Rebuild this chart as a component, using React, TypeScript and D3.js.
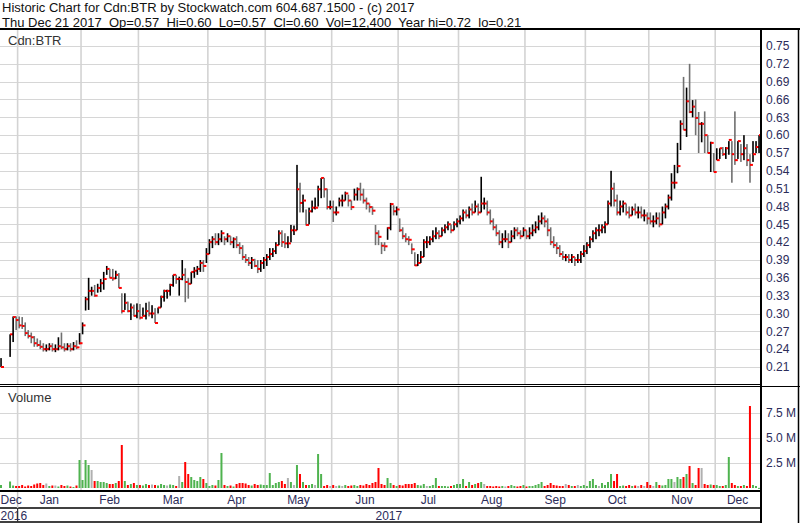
import React from 'react';
import * as d3 from 'd3';

// ---- calendar (TSX-V trading days) ----
const startDate = '2016-12-21';
const endDate = '2017-12-21';
const holidays = ['2016-12-26', '2016-12-27', '2017-01-02', '2017-02-20', '2017-04-14', '2017-05-22', '2017-07-03', '2017-08-07', '2017-09-04', '2017-10-09'];
const monthNames = ['Jan', 'Feb', 'Mar', 'Apr', 'May', 'Jun', 'Jul', 'Aug', 'Sep', 'Oct', 'Nov', 'Dec'];

// ---- daily data (Dec 2016 .. Dec 2017), null = no trade ----
const highs = [
  0.225, null, null, 0.265, 0.295, 0.295,
  0.295, 0.294, 0.285, 0.272, 0.268, 0.262, 0.258, 0.255, 0.25, 0.248, 0.25, 0.25, 0.248, 0.26, 0.268, 0.25, 0.25, 0.25, 0.252, 0.255, 0.267,
  0.285, 0.328, 0.36, 0.345, 0.348, 0.35, 0.358, 0.37, 0.38, 0.375, 0.375, 0.372, 0.368, 0.334, 0.334, 0.32, 0.317, 0.315, 0.317,
  0.316, 0.31, 0.318, 0.32, 0.314, 0.309, 0.31, 0.33, 0.34, 0.34, 0.35, 0.365, 0.365, 0.362, 0.39, 0.376, 0.36, 0.37, 0.378, 0.38, 0.39, 0.39, 0.41,
  0.425, 0.43, 0.435, 0.435, 0.44, 0.43, 0.435, 0.43, 0.428, 0.43, 0.42, 0.415, 0.40, 0.395, 0.395, 0.392, 0.39, 0.39, 0.395,
  0.40, 0.41, 0.41, 0.42, 0.44, 0.44, 0.435, 0.43, 0.449, 0.448, 0.55, 0.52, 0.50, 0.475, 0.478, 0.49, 0.495, 0.515, 0.528, 0.528, 0.51, 0.49,
  0.49, 0.48, 0.495, 0.50, 0.505, 0.50, 0.49, 0.51, 0.512, 0.52, 0.51, 0.495, 0.485, 0.48, 0.449, 0.44, 0.42, 0.42, 0.445, 0.486, 0.482, 0.48,
  0.46, 0.445, 0.435, 0.43, 0.418, 0.403, 0.40, 0.405, 0.425, 0.43, 0.43, 0.44, 0.445, 0.44, 0.445, 0.45, 0.455, 0.45, 0.455, 0.46,
  0.465, 0.475, 0.475, 0.48, 0.485, 0.49, 0.485, 0.53, 0.495, 0.49, 0.475, 0.46, 0.45, 0.44, 0.435, 0.44, 0.435, 0.44, 0.445, 0.445, 0.44, 0.445,
  0.44, 0.445, 0.45, 0.455, 0.465, 0.47, 0.465, 0.46, 0.445, 0.43, 0.42, 0.415, 0.405, 0.40, 0.40, 0.40, 0.395, 0.40, 0.405, 0.415,
  0.42, 0.43, 0.44, 0.445, 0.45, 0.45, 0.455, 0.49, 0.54, 0.52, 0.50, 0.49, 0.49, 0.485, 0.48, 0.48, 0.485, 0.48, 0.48, 0.475, 0.47,
  0.47, 0.465, 0.47, 0.47, 0.48, 0.485, 0.50, 0.536, 0.55, 0.587, 0.625, 0.698, 0.68, 0.72, 0.659, 0.66, 0.639, 0.622, 0.64, 0.60, 0.589, 0.57,
  0.578, 0.578, 0.58, 0.58, 0.59, 0.59, 0.64, 0.59, 0.585, 0.60, 0.585, 0.568, 0.59, 0.59, 0.60,
];
const lows = [
  0.21, null, null, 0.227, 0.252, 0.272,
  0.275, 0.274, 0.262, 0.258, 0.25, 0.244, 0.244, 0.24, 0.236, 0.236, 0.238, 0.236, 0.235, 0.238, 0.24, 0.236, 0.238, 0.236, 0.238, 0.24, 0.248,
  0.265, 0.305, 0.306, 0.33, 0.328, 0.335, 0.336, 0.34, 0.365, 0.36, 0.355, 0.358, 0.343, 0.30, 0.306, 0.302, 0.289, 0.295, 0.292,
  0.29, 0.295, 0.29, 0.295, 0.292, 0.284, 0.30, 0.31, 0.32, 0.325, 0.33, 0.345, 0.35, 0.33, 0.356, 0.319, 0.325, 0.35, 0.36, 0.365, 0.37, 0.37, 0.385,
  0.40, 0.41, 0.415, 0.415, 0.42, 0.415, 0.42, 0.415, 0.41, 0.41, 0.40, 0.39, 0.385, 0.38, 0.375, 0.378, 0.368, 0.37, 0.375,
  0.38, 0.39, 0.395, 0.40, 0.415, 0.412, 0.41, 0.41, 0.42, 0.432, 0.44, 0.47, 0.47, 0.448, 0.45, 0.47, 0.475, 0.48, 0.494, 0.495, 0.475, 0.475,
  0.454, 0.465, 0.48, 0.48, 0.49, 0.48, 0.474, 0.49, 0.49, 0.49, 0.485, 0.475, 0.47, 0.466, 0.415, 0.415, 0.40, 0.405, 0.424, 0.44, 0.465, 0.465,
  0.437, 0.425, 0.42, 0.415, 0.40, 0.38, 0.38, 0.385, 0.395, 0.41, 0.415, 0.42, 0.425, 0.425, 0.43, 0.435, 0.44, 0.435, 0.44, 0.445,
  0.45, 0.455, 0.46, 0.46, 0.465, 0.47, 0.465, 0.47, 0.475, 0.465, 0.45, 0.44, 0.43, 0.415, 0.41, 0.42, 0.41, 0.42, 0.425, 0.43, 0.425, 0.43,
  0.425, 0.425, 0.43, 0.435, 0.44, 0.45, 0.445, 0.43, 0.415, 0.41, 0.40, 0.395, 0.39, 0.388, 0.385, 0.385, 0.38, 0.385, 0.385, 0.395,
  0.40, 0.41, 0.42, 0.425, 0.43, 0.435, 0.435, 0.45, 0.48, 0.48, 0.465, 0.465, 0.47, 0.465, 0.46, 0.465, 0.465, 0.46, 0.46, 0.455, 0.45,
  0.45, 0.445, 0.45, 0.445, 0.45, 0.46, 0.475, 0.49, 0.51, 0.536, 0.575, 0.609, 0.597, 0.637, 0.63, 0.60, 0.57, 0.588, 0.57, 0.57, 0.538, 0.538,
  0.558, 0.56, 0.565, 0.56, 0.567, 0.52, 0.55, 0.56, 0.555, 0.558, 0.548, 0.52, 0.555, 0.57, 0.57,
];
const closes = [
  0.21, null, null, 0.265, 0.294, 0.289,
  0.28, 0.279, 0.267, 0.262, 0.26, 0.25, 0.247, 0.244, 0.24, 0.24, 0.245, 0.24, 0.24, 0.245, 0.243, 0.24, 0.245, 0.24, 0.245, 0.243, 0.25,
  0.28, 0.324, 0.338, 0.338, 0.33, 0.343, 0.351, 0.358, 0.375, 0.36, 0.359, 0.365, 0.343, 0.304, 0.318, 0.304, 0.31, 0.296, 0.304,
  0.293, 0.296, 0.304, 0.30, 0.30, 0.284, 0.31, 0.328, 0.338, 0.338, 0.348, 0.365, 0.358, 0.358, 0.365, 0.353, 0.35, 0.37, 0.372, 0.375, 0.385, 0.38, 0.40,
  0.42, 0.425, 0.42, 0.425, 0.435, 0.425, 0.43, 0.42, 0.425, 0.415, 0.41, 0.395, 0.39, 0.385, 0.39, 0.38, 0.375, 0.385, 0.39,
  0.395, 0.40, 0.405, 0.415, 0.435, 0.42, 0.418, 0.418, 0.44, 0.44, 0.509, 0.486, 0.49, 0.449, 0.472, 0.478, 0.478, 0.509, 0.528, 0.509, 0.479, 0.479,
  0.47, 0.47, 0.49, 0.49, 0.502, 0.49, 0.479, 0.50, 0.509, 0.50, 0.49, 0.485, 0.479, 0.473, 0.435, 0.429, 0.414, 0.413, 0.444, 0.484, 0.472, 0.475,
  0.44, 0.43, 0.425, 0.424, 0.408, 0.381, 0.385, 0.395, 0.42, 0.42, 0.425, 0.43, 0.435, 0.43, 0.44, 0.445, 0.45, 0.44, 0.45, 0.455,
  0.46, 0.47, 0.465, 0.475, 0.47, 0.48, 0.47, 0.485, 0.485, 0.47, 0.455, 0.445, 0.435, 0.42, 0.425, 0.425, 0.42, 0.43, 0.44, 0.435, 0.43, 0.44,
  0.43, 0.435, 0.44, 0.445, 0.455, 0.46, 0.455, 0.44, 0.42, 0.415, 0.41, 0.40, 0.395, 0.395, 0.39, 0.395, 0.39, 0.39, 0.40, 0.405,
  0.415, 0.425, 0.435, 0.44, 0.44, 0.445, 0.45, 0.485, 0.51, 0.49, 0.47, 0.48, 0.485, 0.47, 0.465, 0.475, 0.47, 0.47, 0.465, 0.465, 0.46,
  0.455, 0.455, 0.46, 0.45, 0.47, 0.48, 0.495, 0.52, 0.52, 0.548, 0.619, 0.609, 0.657, 0.639, 0.648, 0.629, 0.619, 0.619, 0.60, 0.57, 0.587, 0.538,
  0.558, 0.578, 0.568, 0.578, 0.592, 0.568, 0.558, 0.59, 0.568, 0.578, 0.558, 0.55, 0.568, 0.58, 0.60,
];
// volume in thousands of shares
const volumes = [
  300, 0, 0, 650, 250, 200,
  200, 300, 150, 250, 200, 350, 450, 500, 300, 450, 200, 250, 250, 150, 300, 200, 250, 150, 100, 250, 2800,
  800, 2800, 2300, 1800, 700, 700, 600, 600, 500, 400, 400, 500, 700, 4300, 700, 300, 400, 500, 300,
  300, 250, 400, 300, 350, 300, 250, 400, 300, 250, 350, 300, 200, 1200, 600, 2600, 1400, 1100, 800, 700, 1100, 900, 500,
  200, 300, 250, 800, 3500, 300, 200, 250, 150, 400, 500, 500, 450, 300, 250, 400, 300, 350, 300,
  300, 1500, 300, 500, 600, 700, 400, 1000, 600, 300, 2300, 1400, 600, 300, 300, 400, 300, 3400, 1400, 200, 300, 200,
  300, 200, 250, 200, 300, 200, 250, 300, 200, 300, 250, 400, 300, 500, 600, 2000, 400, 300, 1000, 500, 300, 200,
  300, 250, 400, 400, 400, 500, 300, 250, 400, 200, 200, 300, 1000, 200, 200, 200, 150, 200, 300, 400,
  400, 900, 200, 600, 300, 400, 500, 600, 400, 200, 200, 150, 200, 150, 200, 150, 200, 300, 200, 150, 200, 300,
  150, 200, 200, 300, 400, 600, 200, 300, 500, 300, 250, 200, 200, 400, 300, 200, 200, 300, 200, 300,
  200, 700, 900, 300, 200, 500, 300, 600, 1400, 700, 1400, 200, 250, 200, 300, 200, 250, 200, 300, 200, 600,
  300, 200, 600, 300, 250, 300, 900, 900, 600, 1100, 900, 1100, 1400, 2200, 500, 300, 2000, 2000, 400, 300, 350, 300,
  300, 200, 200, 300, 3100, 500, 300, 200, 200, 300, 200, 8200, 300, 200, 12.4,
];

const priceTicks = [0.21, 0.24, 0.27, 0.30, 0.33, 0.36, 0.39, 0.42, 0.45, 0.48, 0.51, 0.54, 0.57, 0.60, 0.63, 0.66, 0.69, 0.72, 0.75];
const volumeTicks = [2500, 5000, 7500];
const volumeTickLabels = ['2.5 M', '5.0 M', '7.5 M'];

const headerLine1 = 'Historic Chart for Cdn:BTR by Stockwatch.com 604.687.1500 - (c) 2017';
const headerLine2 = 'Thu Dec 21 2017  Op=0.57  Hi=0.60  Lo=0.57  Cl=0.60  Vol=12,400  Year hi=0.72  lo=0.21';

const FONT = '"Liberation Sans", Arial, sans-serif';
const LABEL = '#2c2c5a';

export default function App() {
  const W = 800, H = 523;
  const plotR = 760;
  const pTop = 30, pBot = 384;
  const vTop = 387, vBot = 490;

  const fmt = d3.timeFormat('%Y-%m-%d');
  const hol = new Set(holidays);
  const days = d3.timeDay
    .range(new Date(startDate + 'T00:00:00'), d3.timeDay.offset(new Date(endDate + 'T00:00:00'), 1))
    .filter((d) => d.getDay() !== 0 && d.getDay() !== 6 && !hol.has(fmt(d)));
  const n = closes.length;

  const x = d3.scaleLinear().domain([0, n - 1]).range([1, 759]);
  const step = x(1) - x(0);
  const y = d3.scaleLinear().domain([0.21, 0.75]).range([367, 46]);
  const vy = d3.scaleLinear().domain([0, 7500]).range([488, 413]);

  // month boundaries
  const months: { label: string; year: number; start: number }[] = [];
  days.forEach((d, i) => {
    if (i === 0 || d.getMonth() !== days[i - 1].getMonth()) {
      months.push({ label: monthNames[d.getMonth()], year: d.getFullYear(), start: i });
    }
  });
  const edgeL = x(0) - step / 2;
  const gridX = months.map((m) => x(m.start) - step / 2);
  const monthSpans = months.map((m, k) => {
    const a = k === 0 ? edgeL : gridX[k];
    const b = k === months.length - 1 ? plotR : gridX[k + 1];
    return { ...m, a, b };
  });
  const yearBreak = monthSpans.find((m, k) => k > 0 && m.year !== monthSpans[k - 1].year)!;

  // direction per day
  const dirs: number[] = [];
  let prev: number | null = null;
  closes.forEach((c) => {
    if (c == null) { dirs.push(0); return; }
    dirs.push(prev == null ? 1 : c > prev + 1e-9 ? 1 : c < prev - 1e-9 ? -1 : 0);
    prev = c;
  });

  return (
    <svg width={W} height={H} style={{ position: 'absolute', left: 0, top: 0, background: '#fff' }} fontFamily={FONT}>
      <defs>
        <clipPath id="pclip"><rect x={0} y={pTop} width={plotR} height={pBot - pTop} /></clipPath>
        <clipPath id="vclip"><rect x={0} y={vTop} width={plotR} height={vBot - vTop} /></clipPath>
      </defs>
      <rect x={0} y={0} width={W} height={H} fill="#fff" />

      {/* header */}
      <text x={2} y={11.5} fontSize={13} fill="#111">{headerLine1}</text>
      <text x={2} y={26.5} fontSize={13} fill="#111" style={{ whiteSpace: 'pre' }}>{headerLine2}</text>
      <line x1={0} x2={W} y1={29} y2={29} stroke="#000" strokeWidth={2} />

      {/* grids */}
      {priceTicks.map((t) => (
        <line key={'hp' + t} x1={0} x2={plotR} y1={Math.round(y(t)) + 0.5} y2={Math.round(y(t)) + 0.5} stroke="#d6d6d6" strokeWidth={1.2} />
      ))}
      {volumeTicks.map((t) => (
        <line key={'hv' + t} x1={0} x2={plotR} y1={Math.round(vy(t)) + 0.5} y2={Math.round(vy(t)) + 0.5} stroke="#d6d6d6" strokeWidth={1.2} />
      ))}
      {gridX.slice(1).map((gx, k) => (
        <g key={'vg' + k}>
          <line x1={gx} x2={gx} y1={pTop} y2={pBot} stroke="#d3d3d3" strokeWidth={1.6} />
          <line x1={gx} x2={gx} y1={vTop} y2={vBot} stroke="#d3d3d3" strokeWidth={1.6} />
        </g>
      ))}

      <text x={8} y={45} fontSize={13} fill="#333">Cdn:BTR</text>
      <text x={8} y={402} fontSize={13} fill="#333">Volume</text>

      {/* price bars */}
      <g clipPath="url(#pclip)">
        {closes.map((c, i) => {
          const hi = highs[i], lo = lows[i];
          if (c == null || hi == null || lo == null) return null;
          const xi = x(i);
          const y1 = y(hi), y2 = y(lo);
          return (
            <g key={'b' + i}>
              <rect x={xi - 0.75} y={y1} width={1.6} height={Math.max(1, y2 - y1)} fill={dirs[i] < 0 ? '#707070' : '#000'} />
              <rect x={xi} y={y(c) - 1} width={3} height={2} fill="#ff0000" />
            </g>
          );
        })}
      </g>

      {/* volume bars */}
      <g clipPath="url(#vclip)">
        {volumes.map((v, i) => {
          if (!v || closes[i] == null) return null;
          const top = vy(v);
          const col = dirs[i] > 0 ? '#4fb34f' : dirs[i] < 0 ? '#ff0000' : '#b0b0b0';
          return <rect key={'v' + i} x={x(i) - 1} y={top} width={2} height={Math.max(1, vy(0) - top)} fill={col} />;
        })}
      </g>

      {/* panel frames */}
      <line x1={0} x2={plotR} y1={384.5} y2={384.5} stroke="#000" strokeWidth={1} />
      <line x1={0} x2={W} y1={386.5} y2={386.5} stroke="#000" strokeWidth={1} />
      <line x1={0} x2={plotR} y1={491} y2={491} stroke="#000" strokeWidth={2} />
      <line x1={0} x2={plotR} y1={508} y2={508} stroke="#000" strokeWidth={1.5} />
      <line x1={0} x2={plotR} y1={522} y2={522} stroke="#000" strokeWidth={1.5} />
      <line x1={761} x2={761} y1={29} y2={H} stroke="#000" strokeWidth={2} />
      <line x1={798.5} x2={798.5} y1={29} y2={H} stroke="#000" strokeWidth={1.5} />

      {/* year separator */}
      <line x1={yearBreak.a} x2={yearBreak.a} y1={492} y2={508} stroke="#c8c8c8" strokeWidth={1.5} />
      <line x1={yearBreak.a} x2={yearBreak.a} y1={508} y2={522} stroke="#333" strokeWidth={1.2} />

      {/* price axis labels */}
      {priceTicks.map((t) => (
        <text key={'pl' + t} x={766} y={y(t) + 4.3} fontSize={12} fill={LABEL}>{t.toFixed(2)}</text>
      ))}
      {volumeTicks.map((t, k) => (
        <text key={'vl' + t} x={766} y={vy(t) + 4.3} fontSize={12} fill={LABEL}>{volumeTickLabels[k]}</text>
      ))}

      {/* month / year labels (first ones kept inside the left edge) */}
      {monthSpans.map((m, k) => (
        k === 0 ? (
          <text key={'m' + k} x={0.5} y={503.5} fontSize={12} fill={LABEL}>{m.label}</text>
        ) : (
          <text key={'m' + k} x={(m.a + m.b) / 2} y={503.5} fontSize={12} fill={LABEL} textAnchor="middle">{m.label}</text>
        )
      ))}
      <text x={0.5} y={519.5} fontSize={12} fill={LABEL}>{String(monthSpans[0].year)}</text>
      <text x={(yearBreak.a + plotR) / 2} y={519.5} fontSize={12} fill={LABEL} textAnchor="middle">{String(yearBreak.year)}</text>
    </svg>
  );
}
